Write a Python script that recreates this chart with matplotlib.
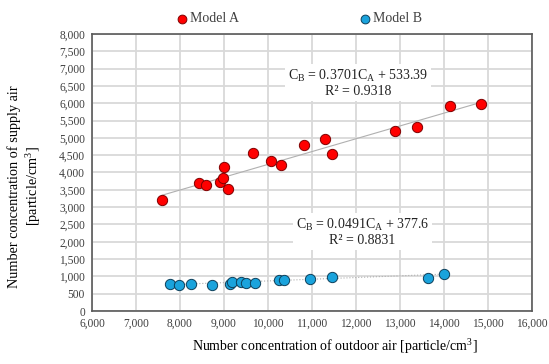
import numpy as np
import matplotlib
matplotlib.use("Agg")
import matplotlib.pyplot as plt
from matplotlib.ticker import MultipleLocator, FuncFormatter

plt.rcParams['font.family'] = ['Liberation Serif', 'DejaVu Serif']
plt.rcParams['mathtext.fontset'] = 'custom'
plt.rcParams['mathtext.rm'] = 'Liberation Serif'
plt.rcParams['mathtext.it'] = 'Liberation Serif:italic'

# Model A: outdoor vs supply concentration
model_a_x = [7600, 8440, 8590, 8910, 8970, 9010, 9080, 9650, 10060, 10300,
             10820, 11300, 11450, 12890, 13380, 14140, 14830]
model_a_y = [3200, 3690, 3640, 3720, 3830, 4160, 3520, 4560, 4320, 4230,
             4800, 4960, 4530, 5200, 5320, 5920, 5980]

# Model B
model_b_x = [7770, 7970, 8250, 8730, 9140, 9190, 9380, 9490, 9700, 10240,
             10360, 10960, 11460, 13640, 13990]
model_b_y = [770, 740, 790, 740, 780, 850, 850, 820, 820, 890,
             890, 930, 980, 960, 1080]

# trendline coefficients (slope, intercept) as printed on the chart
fit_a = (0.3701, 533.39)
fit_b = (0.0491, 377.6)
r2_a = 0.9318
r2_b = 0.8831

fig = plt.figure(figsize=(5.49, 3.64), dpi=100)
ax = fig.add_axes([0.1676, 0.1456, 0.8014, 0.761])

ax.grid(True, color='#d9d9d9', linewidth=1.3, zorder=0)
ax.set_axisbelow(True)

for xs, (m, c), ls in [(model_a_x, fit_a, '-'), (model_b_x, fit_b, ':')]:
    xl = np.array([min(xs), max(xs)])
    ax.plot(xl, m * xl + c, color='#b0b0b0', linewidth=0.8, linestyle=ls, zorder=2)

ax.scatter(model_a_x, model_a_y, s=55, color='#ff0000', edgecolor='#7f0000',
           linewidth=0.7, zorder=3, label='Model A')
ax.scatter(model_b_x, model_b_y, s=55, color='#1aa3dc', edgecolor='#0d3f5a',
           linewidth=0.7, zorder=3, label='Model B')

box = dict(facecolor='white', edgecolor='none', pad=2)
ax.text(12050, 6580, 'C$_\\mathrm{B}$ = %.4fC$_\\mathrm{A}$ + %.2f\nR² = %.4f' % (fit_a[0], fit_a[1], r2_a),
        ha='center', va='center', fontsize=10, color='#222222', bbox=box, zorder=4,
        linespacing=1.1)
ax.text(12150, 2270, 'C$_\\mathrm{B}$ = %.4fC$_\\mathrm{A}$ + %.1f\nR² = %.4f' % (fit_b[0], fit_b[1], r2_b),
        ha='center', va='center', fontsize=10, color='#222222', bbox=box, zorder=4,
        linespacing=1.1)

ax.set_xlim(6000, 16000)
ax.set_ylim(0, 8000)
ax.xaxis.set_major_locator(MultipleLocator(1000))
ax.yaxis.set_major_locator(MultipleLocator(500))
fmt = FuncFormatter(lambda v, p: f'{int(v):,}')
ax.xaxis.set_major_formatter(fmt)
ax.yaxis.set_major_formatter(fmt)
ax.tick_params(length=0, labelsize=8.3, colors='#404040', pad=5)

for s in ax.spines.values():
    s.set_color('#595959')
    s.set_linewidth(1.2)

ax.set_xlabel('Number concentration of outdoor air [particle/cm$^3$]', fontsize=10)
ax.xaxis.set_label_coords(0.552, -0.095)
ax.set_ylabel('Number concentration of supply air\n[particle/cm$^3$]', fontsize=10.3)
ax.yaxis.set_label_coords(-0.112, 0.45)

fig.legend(loc='upper center', bbox_to_anchor=(0.545, 1.0), ncol=2, frameon=False,
           fontsize=10, handlelength=0.8, handletextpad=0.15, columnspacing=8.7,
           markerscale=0.85, labelcolor='#404040')

fig.savefig('out.png', dpi=100)
